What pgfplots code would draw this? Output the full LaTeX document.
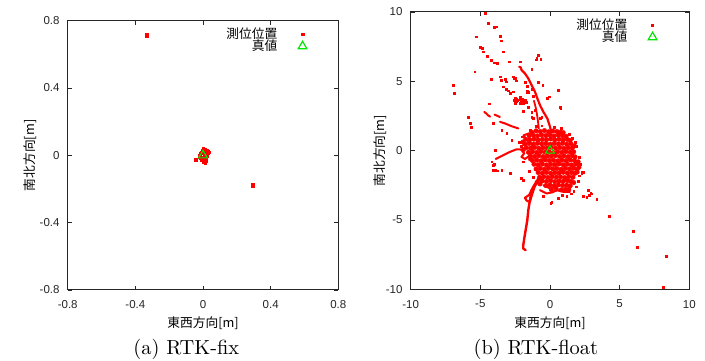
\documentclass[border=0pt]{standalone}
\usepackage{fontspec}
\usepackage{pgfplots}
\pgfplotsset{compat=1.18}
\newfontfamily\cjk{Noto Sans CJK JP}
\newfontfamily\tickf{Liberation Sans}
\newfontfamily\capf{lmroman10-regular.otf}
\definecolor{ptred}{RGB}{255,0,0}
\definecolor{ptgreen}{RGB}{0,230,0}
\pgfplotsset{
  gp/.style={
    scale only axis,
    axis line style={line width=1pt, black!85},
    every tick/.style={black!85, line width=0.8pt},
    major tick length=4.3pt,
    tick align=inside,
    ticklabel style={font=\tickf\fontsize{11.5}{12}\selectfont, text=black!85},
    xticklabel style={inner sep=0pt, anchor=north, yshift=-10.5pt},
    yticklabel style={inner sep=0pt, anchor=east, xshift=-8pt},
    label style={font=\cjk\fontsize{12.75}{13}\selectfont},
    legend style={draw=none, fill=none, font=\cjk\fontsize{12.75}{13}\selectfont,
      nodes={inner sep=0pt, text height=10.5pt, text depth=1.5pt},
      column sep=16.5pt, anchor=north east},
    legend cell align=right,
    legend plot pos=right,
  },
  pts/.style={only marks, mark=square*, color=ptred, mark size=0.9pt,
    legend image code/.code={\path (0cm,0cm) (0.6cm,0cm); \draw[mark repeat=1,##1] plot coordinates {(0.3cm,0cm)};}},
  truth/.style={only marks, mark=triangle, color=ptgreen, mark size=5pt, mark options={line width=1.2pt},
    legend image code/.code={\path (0cm,0cm) (0.6cm,0cm); \draw[mark repeat=1,##1] plot coordinates {(0.3cm,0cm)};}},
}
\begin{document}
\begin{tikzpicture}
\useasboundingbox (0pt,0pt) rectangle (705pt,361pt);
% ---------------- (a) RTK-fix ----------------
\begin{axis}[gp,
  at={(67.7pt,71pt)}, anchor=south west,
  width=270.6pt, height=269.3pt,
  xmin=-0.8, xmax=0.8, ymin=-0.8, ymax=0.8,
  xtick={-0.8,-0.4,0,0.4,0.8}, xticklabels={-0.8,-0.4,0,0.4,0.8},
  ytick={-0.8,-0.4,0,0.4,0.8}, yticklabels={-0.8,-0.4,0,0.4,0.8},
  xlabel={東西方向[m]}, ylabel={南北方向[m]},
  x label style={at={(axis description cs:0.5,-0.1225)}, anchor=center},
  y label style={at={(axis description cs:-0.139,0.5)}, anchor=center},
  legend style={at={(0.912,0.980)}},
]
\addplot[pts, mark size=1.2pt] coordinates {
(-0.333,0.713) (-0.336,0.719) (-0.331,0.707) (-0.334,0.711) (-0.330,0.716)
(0.290,-0.170) (0.292,-0.178) (0.295,-0.175) (0.291,-0.184) (0.294,-0.181)
(0.000,0.040) (0.006,0.038) (0.012,0.035) (0.018,0.030) (0.025,0.028) (0.032,0.025)
(0.038,0.020) (0.030,0.015) (0.020,0.020) (0.010,0.025) (-0.005,0.030) (-0.010,0.020)
(0.000,0.015) (-0.015,0.010) (-0.020,0.000) (-0.022,-0.010) (-0.015,-0.015) (-0.008,-0.020)
(0.000,-0.010) (0.010,-0.005) (0.020,0.005) (0.025,-0.005) (0.020,-0.020) (0.010,-0.025)
(0.000,-0.030) (-0.010,-0.030) (0.005,-0.040) (0.012,-0.045) (0.015,-0.035) (0.025,0.010)
(-0.043,-0.027)
};
\addlegendentry{測位位置}
\addplot[truth] coordinates {(0,0)};
\addlegendentry{真値}
\end{axis}
% ---------------- (b) RTK-float ----------------
\begin{axis}[gp,
  at={(410.7pt,71.7pt)}, anchor=south west,
  width=278.6pt, height=277.3pt,
  xmin=-10, xmax=10, ymin=-10, ymax=10,
  xtick={-10,-5,0,5,10}, xticklabels={-10,-5,0,5,10},
  ytick={-10,-5,0,5,10}, yticklabels={-10,-5,0,5,10},
  xlabel={東西方向[m]}, ylabel={南北方向[m]},
  x label style={at={(axis description cs:0.5,-0.1226)}, anchor=center},
  y label style={at={(axis description cs:-0.110,0.5)}, anchor=center},
  legend style={at={(0.911,0.982)}},
]
% sparse positions
\addplot[pts] coordinates {
(-4.68,9.9) (-4.44,9.18) (-4.0,8.89) (-3.88,8.94) (-5.28,8.22) (-3.6,8.27) (-3.48,7.93)
(-4.99,7.45) (-4.89,7.4) (-4.8,7.14) (-4.51,6.82) (-4.2,6.53) (-4.0,6.34) (-3.77,6.29)
(-3.36,7.14) (-2.93,6.41) (-2.16,6.41) (-0.96,6.65) (-0.84,6.89) (-0.67,6.58) (-1.0,6.56)
(-5.4,5.69) (-4.24,5.14) (-3.6,5.33) (-3.48,5.09) (-3.24,5.14) (-3.17,4.97) (-2.64,5.33)
(-2.52,5.21) (-2.45,5.04) (-2.58,5.25) (-3.36,4.61) (-3.17,4.42) (-3.0,4.32) (-2.88,4.13)
(-2.64,4.25) (-2.52,3.77) (-2.16,3.84) (-1.63,4.32) (-1.32,4.42) (-1.2,3.94) (-0.89,4.97)
(-0.53,4.73) (-0.19,3.77) (-0.05,3.89) (0.6,4.37) (0.72,3.12) (0.77,3.02) (-1.92,2.87)
(-1.56,3.16) (-1.32,2.8) (-1.08,2.92) (-5.88,2.44) (-5.83,2.38) (-5.75,1.96) (-5.68,1.7)
(-6.95,4.71) (-6.88,4.16) (-1.32,2.44) (-1.2,2.32) (-0.72,2.32) (-0.6,2.44) (-1.32,5.87)
(-1.8,4.95) (-1.63,4.64) (-1.68,4.23) (-1.56,4.23) (-0.84,4.95)
(-2.6,3.65) (-2.45,3.7) (-2.35,3.6) (-2.2,3.68) (-2.05,3.62) (-1.9,3.55) (-1.8,3.68)
(-1.7,3.5) (-2.5,3.45) (-2.15,3.4) (-1.95,3.45) (-2.4,3.55) (-2.0,3.7)
(-4.36,3.39) (-3.9,0.02) (-3.95,0.04) (-4.19,-0.8) (-4.07,-1.05) (-4.0,-0.95) (-4.07,-1.41)
(-3.96,-1.42) (-3.77,-1.45) (-3.47,-1.41) (-2.87,-1.65) (-2.04,-1.97) (-1.92,-2.13)
(-3.11,1.24) (-2.75,0.76) (-2.15,0.64) (-4.07,1.96) (-3.47,1.48)
(2.04,-0.93) (2.28,-1.66) (2.33,-1.54) (2.4,-1.53) (2.76,-2.85) (2.92,-3.09) (2.83,-3.21)
(2.4,-3.29) (2.64,-3.34) (3.0,-3.1) (3.35,-3.53) (4.27,-4.71) (5.95,-5.82) (6.24,-6.95)
(8.35,-7.62) (8.15,-9.83) (0.12,-3.69) (0.05,-3.77) (0.6,-3.45) (1.2,-3.3) (1.5,-3.1)
(-2.0,1.0) (-2.2,0.6) (2.1,-0.5) (2.2,-1.0) (1.8,0.6) (1.9,0.3) (-1.9,-0.8) (-1.5,-1.5)
(-1.2,-1.9) (2.0,-2.2) (1.9,-2.6) (1.7,-2.9) (-0.6,1.8) (0.3,1.7) (0.8,1.6) (-1.0,1.75)
(1.4,1.2) (-1.4,1.5) (1.6,0.9) (-2.05,0.3) (2.1,-1.8) (0.9,-3.2) (-0.5,-3.3)
};
\addlegendentry{測位位置}
% dense cloud around the true position
\addplot[only marks, mark=*, color=ptred, mark size=2.25pt, forget plot] coordinates {
(-1.0,1.43) (-0.7,1.38) (-0.4,1.45) (-0.1,1.36) (0.2,1.41) (0.5,1.38) (0.75,1.33)
(-1.5,1.08) (-1.2,1.12) (-0.9,1.07) (-0.6,1.13) (-0.3,1.09) (0.0,1.11) (0.3,1.06) (0.6,1.12) (0.9,1.08) (1.15,1.04)
(-1.75,0.82) (-1.45,0.78) (-1.15,0.83) (-0.85,0.77) (-0.55,0.81) (-0.25,0.79) (0.05,0.84) (0.35,0.78) (0.65,0.82) (0.95,0.77) (1.25,0.81) (1.45,0.74)
(-1.8,0.48) (-1.5,0.52) (-1.2,0.47) (-0.9,0.53) (-0.6,0.49) (-0.3,0.51) (0.0,0.46) (0.3,0.52) (0.6,0.48) (0.9,0.53) (1.2,0.47) (1.5,0.5)
(-1.7,0.22) (-1.4,0.18) (-1.1,0.23) (-0.8,0.17) (-0.5,0.21) (-0.2,0.19) (0.1,0.24) (0.4,0.18) (0.7,0.22) (1.0,0.17) (1.3,0.21) (1.6,0.19)
(-1.55,-0.12) (-1.25,-0.08) (-0.95,-0.13) (-0.65,-0.07) (-0.35,-0.11) (-0.05,-0.09) (0.25,-0.14) (0.55,-0.08) (0.85,-0.12) (1.15,-0.07) (1.45,-0.11) (1.7,-0.09)
(-1.4,-0.38) (-1.1,-0.42) (-0.8,-0.37) (-0.5,-0.43) (-0.2,-0.39) (0.1,-0.41) (0.4,-0.36) (0.7,-0.42) (1.0,-0.38) (1.3,-0.43) (1.6,-0.37) (1.8,-0.45)
(-1.25,-0.72) (-0.95,-0.68) (-0.65,-0.73) (-0.35,-0.67) (-0.05,-0.71) (0.25,-0.69) (0.55,-0.74) (0.85,-0.68) (1.15,-0.72) (1.45,-0.67) (1.75,-0.71)
(-1.15,-0.98) (-0.85,-1.02) (-0.55,-0.97) (-0.25,-1.03) (0.05,-0.99) (0.35,-1.01) (0.65,-0.96) (0.95,-1.02) (1.25,-0.98) (1.55,-1.03) (1.85,-0.97)
(-1.0,-1.32) (-0.7,-1.28) (-0.4,-1.33) (-0.1,-1.27) (0.2,-1.31) (0.5,-1.29) (0.8,-1.34) (1.1,-1.28) (1.4,-1.32) (1.7,-1.27) (1.95,-1.34)
(-0.85,-1.58) (-0.55,-1.62) (-0.25,-1.57) (0.05,-1.63) (0.35,-1.59) (0.65,-1.61) (0.95,-1.56) (1.25,-1.62) (1.55,-1.58) (1.8,-1.63)
(-0.75,-1.92) (-0.45,-1.88) (-0.15,-1.93) (0.15,-1.87) (0.45,-1.91) (0.75,-1.89) (1.05,-1.94) (1.35,-1.88) (1.65,-1.92)
(-0.55,-2.18) (-0.25,-2.22) (0.05,-2.17) (0.35,-2.23) (0.65,-2.19) (0.95,-2.21) (1.25,-2.16) (1.5,-2.22)
(-0.3,-2.52) (0.0,-2.48) (0.3,-2.53) (0.6,-2.47) (0.9,-2.51) (1.2,-2.49) (1.45,-2.54)
(0.1,-2.82) (0.45,-2.77) (0.8,-2.83) (1.1,-2.79)
(-1.95,0.62) (-1.9,0.08) (1.75,0.35) (2.02,-0.8) (2.08,-1.2) (-1.3,1.32) (0.95,1.3)
(1.7,-2.3) (-0.72,-2.4) (1.35,-2.8) (-1.4,-0.6) (1.95,-1.55)
};
% continuous traces
\addplot[ptred, line width=2.2pt, line join=round, line cap=round, forget plot] coordinates {
(-2.21,6.05) (-2.1,6.0) (-2.04,5.81) (-1.8,5.57) (-1.56,5.21) (-1.32,4.73) (-1.08,4.25)
(-0.91,3.77) (-0.72,3.28) (-0.48,2.8) (-0.19,2.32) (0.0,1.72) (0.1,1.3)};
\addplot[ptred, line width=1.8pt, line join=round, line cap=round, forget plot] coordinates {
(-1.15,3.6) (-1.0,3.0) (-0.9,2.4) (-0.8,1.6)};
\addplot[ptred, line width=2pt, line join=round, line cap=round, forget plot] coordinates {
(-4.72,2.79) (-4.6,2.7) (-4.45,2.55) (-4.3,2.45)};
\addplot[ptred, line width=2pt, line join=round, line cap=round, forget plot] coordinates {
(-3.98,2.6) (-3.8,2.52) (-3.6,2.43)};
\addplot[ptred, line width=2pt, line join=round, line cap=round, forget plot] coordinates {
(-3.59,2.08) (-3.2,1.95) (-2.8,1.78) (-2.27,1.6)};
\addplot[ptred, line width=2pt, line join=round, line cap=round, forget plot] coordinates {
(-3.9,-0.6) (-3.4,-0.35) (-2.9,-0.1) (-2.4,0.1) (-2.1,0.1) (-1.85,-0.2) (-2.05,-0.45)
(-1.8,-0.6) (-1.45,-0.35) (-1.25,0.0) (-1.3,0.5) (-1.6,0.7) (-1.9,1.1) (-1.5,1.25)};
\addplot[ptred, line width=2.4pt, line join=round, line cap=round, forget plot] coordinates {
(-0.6,-1.89) (-0.96,-2.37) (-1.32,-2.85) (-1.44,-3.57) (-1.56,-4.3) (-1.63,-5.02)
(-1.75,-5.74) (-1.85,-6.34) (-1.92,-6.82) (-1.92,-7.06) (-1.75,-7.18)};
\addplot[ptred, line width=2.2pt, line join=round, line cap=round, forget plot] coordinates {
(-0.84,-2.01) (-1.2,-2.6) (-1.5,-3.2) (-1.8,-3.4) (-1.68,-3.6) (-1.45,-3.7) (-1.3,-3.2)
(-1.1,-2.6) (-1.0,-2.2)};
\addplot[ptred, line width=2pt, line join=round, line cap=round, forget plot] coordinates {
(-0.72,-2.85) (-0.24,-3.09) (0.2,-3.0) (0.48,-2.85) (0.96,-2.97) (1.44,-2.97)};
\addplot[ptred, line width=2pt, line join=round, line cap=round, forget plot] coordinates {
(-0.48,-2.49) (0.0,-2.73) (0.5,-2.6)};
\addplot[truth] coordinates {(0,0)};
\addlegendentry{真値}
\end{axis}
\node[anchor=center] at (186.3pt,11.8pt) {\capf\fontsize{20.4}{24}\selectfont (a) RTK-fix};
\node[anchor=center] at (535.8pt,11.8pt) {\capf\fontsize{20.4}{24}\selectfont (b) RTK-float};
\end{tikzpicture}
\end{document}
